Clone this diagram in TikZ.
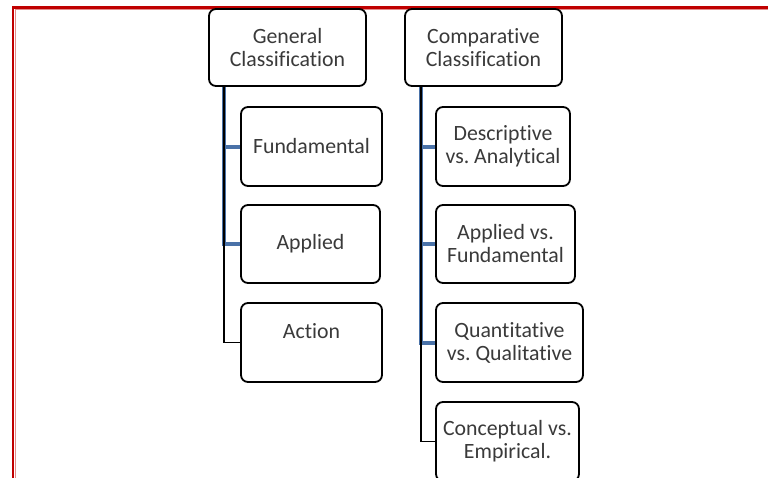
\documentclass[tikz,border=0pt]{standalone}
\usepackage{fontspec}
\setmainfont{Carlito}[Ligatures=NoCommon]
\usetikzlibrary{calc}
\definecolor{framered}{HTML}{C00000}
\definecolor{linkblue}{HTML}{4A72A8}
\definecolor{boxtext}{HTML}{3A3A3A}
\frenchspacing
\begin{document}
\begin{tikzpicture}[x=1pt,y=-1pt,
  card/.style={draw=black, line width=1.8pt, rounded corners=7pt, fill=white,
    align=center, inner sep=0pt, text=boxtext,
    font=\fontsize{21.8}{23}\selectfont},
  bluelink/.style={draw=linkblue, line width=4pt},
  blacklink/.style={draw=black, line width=1.6pt}]
\useasboundingbox (0,0) rectangle (768,477);

% red page frame, running off the right and bottom edges
\begin{scope}
  \clip (0,0) rectangle (768,477);
  \draw[framered, line width=2.6pt] (13,7.5) rectangle (800,520);
  \draw[framered!45, line width=0.8pt] (15.2,9.7) rectangle (800,520);
\end{scope}

% top-level boxes
\node[card, minimum width=157pt, minimum height=77pt] (gc) at (287.5,47.5) {General\\Classification};
\node[card, minimum width=157pt, minimum height=77pt] (cc) at (483.5,47.5) {Comparative\\Classification};

% general classification branches
\node[card, minimum width=141pt, minimum height=79pt] (fund) at (311.5,146.5) {Fundamental};
\node[card, minimum width=139pt, minimum height=78pt] (app) at (310.5,244) {Applied};
\node[card, minimum width=141pt, minimum height=79pt] (act) at (311.5,342.5) {Action\\\mbox{}};

% comparative classification branches
\node[card, minimum width=134pt, minimum height=79pt] (desc) at (503,146.5) {Descriptive\\vs. Analytical};
\node[card, minimum width=139pt, minimum height=78pt] (avf) at (505.5,244) {Applied vs.\\Fundamental};
\node[card, minimum width=147pt, minimum height=79pt] (qvq) at (509.5,342.5) {Quantitative\\vs. Qualitative};
\node[card, minimum width=143pt, minimum height=79pt] (cve) at (507.5,441.5) {Conceptual vs.\\Empirical.};

% elbow connectors
\coordinate (gtrunk) at ($(gc.south west)+(16,0)$);
\coordinate (ctrunk) at ($(cc.south west)+(17,0)$);
\draw[bluelink] (gtrunk) |- (fund.west);
\draw[bluelink] (gtrunk) |- (app.west);
\draw[blacklink] (gtrunk) |- (act.west);
\draw[bluelink] (ctrunk) |- (desc.west);
\draw[bluelink] (ctrunk) |- (avf.west);
\draw[bluelink] (ctrunk) |- (qvq.west);
\draw[blacklink] (ctrunk) |- (cve.west);
\end{tikzpicture}
\end{document}
